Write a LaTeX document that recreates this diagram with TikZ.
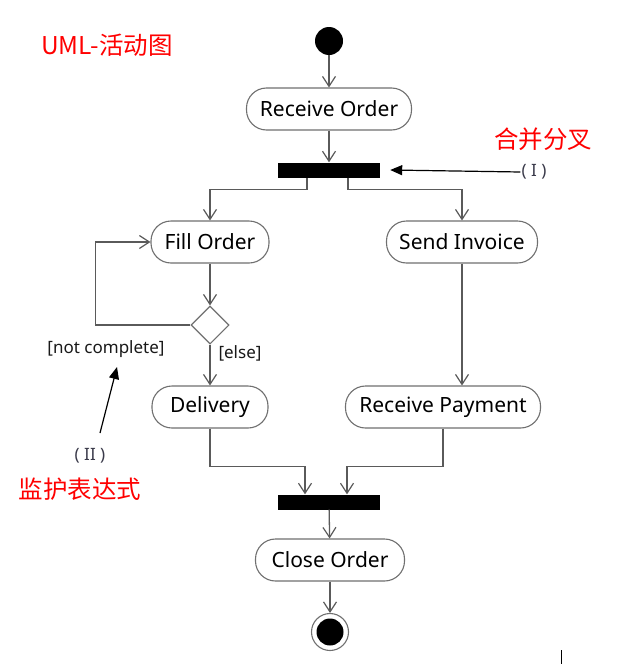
\documentclass[tikz,border=0pt]{standalone}
\usepackage{fontspec}
\setmainfont{Noto Sans}
\newfontfamily\cjk{Noto Sans CJK SC}
\usetikzlibrary{arrows.meta,shapes.geometric}
\definecolor{linegray}{HTML}{5A5A5A}
\definecolor{boxgray}{HTML}{707070}
\definecolor{notegray}{HTML}{3A3A4A}
\begin{document}
\begin{tikzpicture}[x=1pt,y=-1pt,
  act/.style={draw=boxgray, line width=1.1pt, rounded corners=20pt, fill=white,
    minimum height=42pt, inner sep=0pt, text=black, font=\fontsize{21}{23}\selectfont},
  flow/.style={draw=linegray, line width=1.3pt,
    -{Straight Barb[length=10pt,width=13pt,line width=1.2pt]}},
  bar/.style={fill=black, minimum width=102pt, minimum height=15pt, inner sep=0pt},
  note/.style={draw=black, line width=1.2pt, -{Triangle[length=12pt,width=10pt]}},
  lbl/.style={text=black!90, font=\fontsize{17}{19}\selectfont, inner sep=1pt},
  redtxt/.style={text=red, font=\cjk\fontsize{24.5}{26}\selectfont, inner sep=0pt},
  roman/.style={text=notegray, font=\fontsize{17}{19}\selectfont, inner sep=1pt}]
\useasboundingbox (0,0) rectangle (628,664);
\fill[white] (0,0) rectangle (628,664);

% nodes
\node[circle, fill=black, minimum size=28pt, inner sep=0pt] (start) at (329,41) {};
\node[act, minimum width=165pt] (ro) at (329,109) {Receive Order};
\node[bar] (fork) at (329,170) {};
\node[act, minimum width=118pt] (fill) at (210,242) {Fill Order};
\node[act, minimum width=151pt] (send) at (462,242) {Send Invoice};
\node[diamond, aspect=1, draw=boxgray, line width=1.1pt, minimum size=38pt, inner sep=0pt, fill=white] (dec) at (210,325) {};
\node[act, minimum width=116pt] (del) at (210,407) {Delivery};
\node[act, minimum width=195pt] (pay) at (443,407) {Receive Payment};
\node[bar] (join) at (329,502) {};
\node[act, minimum width=149pt] (close) at (330,560) {Close Order};
\node[circle, draw=boxgray, line width=1.1pt, minimum size=37pt, inner sep=0pt] (end) at (330,632) {};
\node[circle, fill=black, minimum size=27pt, inner sep=0pt] (endin) at (end) {};

% labels
\node[lbl] (nc) at (106,349) {[not complete]};
\node[lbl] (els) at (240,353) {[else]};
\node[roman] (r1) at (534,172) {( I )};
\node[roman] (r2) at (90,456) {( II )};
\node[redtxt] (t0) at (107,45) {UML-活动图};
\node[redtxt] (t1) at (543,139) {合并分叉};
\node[redtxt] (t2) at (80,489) {监护表达式};

% connectors
\draw[flow] (start) -- (ro);
\draw[flow] (ro) -- (fork);
\draw[flow] ([xshift=-22pt]fork.south) -- ++(0,12) -| (fill.north);
\draw[flow] ([xshift=19pt]fork.south) -- ++(0,12) -| (send.north);
\draw[flow] (fill) -- (dec);
\draw[flow] (dec.west) -- ++(-95,0) |- (fill.west);
\draw[flow] (dec) -- (del);
\draw[flow] (send.south) -- (send.south |- pay.north);
\draw[flow] (del.south) -- ++(0,38) -| ([xshift=-24pt]join.north);
\draw[flow] (pay.south) -- ++(0,38) -| ([xshift=18pt]join.north);
\draw[flow] (join) -- (close);
\draw[flow] (close) -- (end);

% annotation arrows
\draw[note] (r1.west) -- ([xshift=10pt]fork.east);
\coordinate (a2s) at (100,433);
\coordinate (a2e) at (117,367);
\draw[note] (a2s) -- (a2e);

% stray mark
\coordinate (m1) at (561,650);
\coordinate (m2) at (561,664);
\draw[black, line width=1pt] (m1) -- (m2);
\end{tikzpicture}
\end{document}
